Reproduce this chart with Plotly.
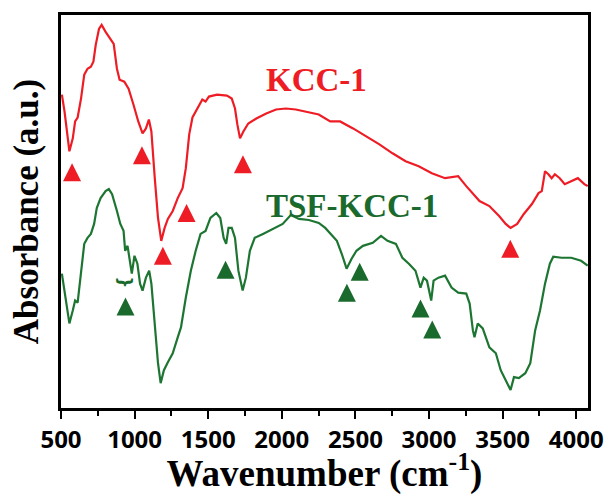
import plotly.graph_objects as go

# ---- data ----
kcc_wn = [506, 524, 557, 580, 596, 613, 636, 658, 680, 703, 720, 736, 758, 776, 803, 836, 858, 880, 898, 930,
          959, 992, 1025, 1054, 1077, 1097, 1114, 1137, 1159, 1181, 1204, 1226, 1259, 1293, 1326, 1348, 1371, 1393,
          1426, 1460, 1482, 1505, 1560, 1627, 1660, 1682, 1698, 1716, 1739, 1772, 1827, 1894, 1961, 2028, 2095,
          2162, 2251, 2329, 2396, 2484, 2574, 2663, 2752, 2841, 2930, 3019, 3109, 3198, 3253, 3298, 3343, 3410,
          3476, 3521, 3554, 3599, 3644, 3699, 3744, 3766, 3788, 3811, 3833, 3855, 3888, 3922, 3966, 4011, 4055, 4078]
kcc_abs = [3.15, 2.98, 2.58, 2.71, 2.88, 2.92, 3.11, 3.35, 3.41, 3.43, 3.48, 3.65, 3.81, 3.85, 3.78, 3.71, 3.66, 3.41,
           3.30, 3.28, 3.21, 3.05, 2.88, 2.76, 2.81, 2.90, 2.78, 2.31, 1.91, 1.68, 1.81, 1.90, 1.98, 2.11, 2.21, 2.41,
           2.75, 2.92, 3.01, 3.10, 3.08, 3.13, 3.15, 3.14, 3.11, 3.01, 2.85, 2.71, 2.78, 2.86, 2.91, 2.96, 3.00, 3.01,
           3.00, 2.98, 2.95, 2.88, 2.88, 2.81, 2.73, 2.65, 2.56, 2.48, 2.43, 2.36, 2.31, 2.33, 2.23, 2.15, 2.08, 2.03,
           1.93, 1.85, 1.81, 1.85, 1.95, 2.05, 2.16, 2.18, 2.38, 2.35, 2.31, 2.35, 2.31, 2.25, 2.28, 2.31, 2.25, 2.23]

tsf_wn = [506, 535, 557, 580, 596, 613, 636, 658, 680, 703, 725, 743, 769, 803, 825, 847, 880, 903, 925, 936, 952,
          970, 981, 999, 1019, 1037, 1054, 1077, 1099, 1114, 1137, 1159, 1177, 1199, 1226, 1259, 1293, 1315, 1348,
          1382, 1415, 1448, 1482, 1515, 1555, 1582, 1605, 1622, 1638, 1660, 1682, 1705, 1734, 1756, 1783, 1816,
          1872, 1939, 2006, 2061, 2117, 2184, 2251, 2295, 2329, 2374, 2407, 2440, 2474, 2507, 2551, 2618, 2674,
          2718, 2775, 2819, 2863, 2908, 2942, 2964, 2986, 3015, 3031, 3064, 3109, 3153, 3198, 3253, 3276, 3298,
          3309, 3331, 3365, 3410, 3454, 3487, 3521, 3554, 3577, 3610, 3654, 3688, 3721, 3754, 3788, 3821, 3844,
          3900, 3966, 4033, 4078]
tsf_abs = [1.35, 1.05, 0.85, 0.98, 1.08, 1.06, 1.38, 1.65, 1.71, 1.75, 1.85, 2.01, 2.11, 2.18, 2.20, 2.15, 1.98, 1.85,
           1.78, 1.58, 1.63, 1.45, 1.35, 1.53, 1.45, 1.25, 1.18, 1.31, 1.38, 1.25, 0.81, 0.45, 0.25, 0.38, 0.46, 0.55,
           0.71, 0.81, 1.11, 1.38, 1.58, 1.75, 1.78, 1.91, 1.96, 1.91, 1.71, 1.65, 1.81, 1.81, 1.71, 1.38, 1.18, 1.31,
           1.58, 1.71, 1.75, 1.80, 1.85, 1.94, 1.90, 1.89, 1.86, 1.81, 1.75, 1.68, 1.55, 1.40, 1.50, 1.58, 1.63, 1.66,
           1.73, 1.68, 1.65, 1.51, 1.45, 1.38, 1.21, 1.31, 1.28, 1.08, 1.28, 1.31, 1.33, 1.21, 1.16, 1.15, 1.05, 0.78,
           0.71, 0.85, 0.80, 0.61, 0.55, 0.38, 0.28, 0.18, 0.31, 0.30, 0.35, 0.45, 0.78, 0.98, 1.25, 1.45, 1.52, 1.51,
           1.51, 1.48, 1.43]

# peak-marker triangles (position of each triangle's apex)
kcc_mark_wn = [575, 1050, 1192, 1353, 1736, 3552]
kcc_mark_abs = [2.46, 2.63, 1.62, 2.05, 2.54, 1.69]
tsf_mark_wn = [938, 1618, 2442, 2529, 2942, 3022]
tsf_mark_abs = [1.11, 1.48, 1.25, 1.46, 1.09, 0.88]
brace_wn = 938
brace_abs = 1.26

series_names = ["KCC-1", "TSF-KCC-1"]
x_ticks = [500, 1000, 1500, 2000, 2500, 3000, 3500, 4000]

RED = "#ee1c25"
GREEN = "#1d7532"
GREEN_DARK = "#1a6a2d"
SERIF = "Liberation Serif"

fig = go.Figure()
fig.add_trace(go.Scatter(x=kcc_wn, y=kcc_abs, mode="lines", line=dict(color=RED, width=2.2), name=series_names[0]))
fig.add_trace(go.Scatter(x=tsf_wn, y=tsf_abs, mode="lines", line=dict(color=GREEN, width=2.2), name=series_names[1]))
fig.add_trace(go.Scatter(x=kcc_mark_wn, y=kcc_mark_abs, mode="markers",
                         marker=dict(symbol="arrow-up", size=18, color=RED, line=dict(width=0))))
fig.add_trace(go.Scatter(x=tsf_mark_wn, y=tsf_mark_abs, mode="markers",
                         marker=dict(symbol="arrow-up", size=18, color=GREEN_DARK, line=dict(width=0))))

fig.add_annotation(x=brace_wn, y=brace_abs, xref="x", yref="y", text="<b>}</b>", showarrow=False, textangle=90,
                   xanchor="center", yanchor="middle",
                   font=dict(family="DejaVu Sans", size=17, color=GREEN_DARK))
fig.add_annotation(x=0.485, y=0.835, xref="paper", yref="paper", text="<b>KCC-1</b>", showarrow=False,
                   yanchor="middle", xanchor="center",
                   font=dict(family=SERIF, size=33, color=RED))
fig.add_annotation(x=0.552, y=0.514, xref="paper", yref="paper", text="<b>TSF-KCC-1</b>", showarrow=False,
                   yanchor="middle", xanchor="center",
                   font=dict(family=SERIF, size=33, color=GREEN_DARK))

fig.update_layout(
    width=615, height=495,
    margin=dict(l=61, r=18, t=13, b=87),
    paper_bgcolor="white", plot_bgcolor="white",
    showlegend=False,
    xaxis=dict(range=[500, 4080], tickvals=x_ticks, ticks="outside", ticklen=8, tickwidth=2, tickcolor="black",
               minor=dict(dtick=250, tick0=500, ticks="outside", ticklen=5, tickwidth=2, tickcolor="black"),
               showline=True, linewidth=2.5, linecolor="black", mirror=True, showgrid=False, zeroline=False,
               tickfont=dict(family="Open Sans", size=24, color="black", weight="bold"),
               title=dict(text="<b>Wavenumber (cm<sup>-1</sup>)</b>", standoff=2,
                          font=dict(family=SERIF, size=37, color="black"))),
    yaxis=dict(range=[0, 3.95], showticklabels=False, ticks="", showline=True, linewidth=2.5, linecolor="black",
               mirror=True, showgrid=False, zeroline=False,
               title=dict(text="<b>Absorbance (a.u.)</b>", standoff=10,
                          font=dict(family=SERIF, size=35, color="black"))),
)

fig.write_html("out.html")
